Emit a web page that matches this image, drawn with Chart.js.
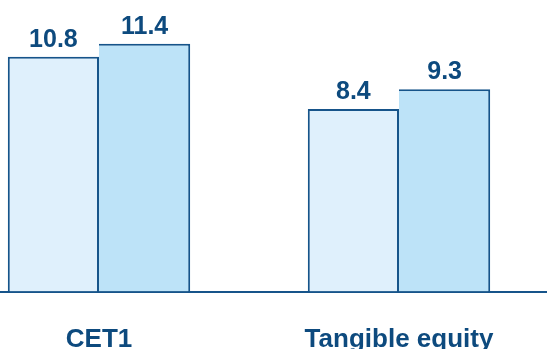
<!DOCTYPE html>
<html>
<head>
<meta charset="utf-8">
<script src="https://cdn.jsdelivr.net/npm/chart.js@4/dist/chart.umd.min.js"></script>
<style>
  html, body { margin: 0; padding: 0; background: #fff; overflow: hidden; }
  body { width: 547px; height: 349px; position: relative; }
  /* the plot runs a bit past the left edge of the page */
  #wrap { position: absolute; left: -51px; top: 0; width: 600px; height: 349px; }
</style>
</head>
<body>
<div id="wrap"><canvas id="myChart" width="600" height="349"></canvas></div>
<script>
"use strict";
const categories = ["CET1", "Tangible equity"];
const seriesA = [10.8, 8.4];
const seriesB = [11.4, 9.3];

const dark = "#16548a";
const textColor = "#0d4a7e";

// value on top of every bar
const valueLabels = {
    id: "valueLabels",
    afterDatasetsDraw(chart) {
        const ctx = chart.ctx;
        ctx.save();
        ctx.fillStyle = textColor;
        ctx.font = "bold 25px 'Liberation Sans', Arial, sans-serif";
        ctx.textAlign = "center";
        ctx.textBaseline = "alphabetic";
        chart.data.datasets.forEach((ds, i) => {
            chart.getDatasetMeta(i).data.forEach((bar, j) => {
                ctx.fillText(ds.data[j].toFixed(1), bar.x, bar.y - 10);
            });
        });
        ctx.restore();
    }
};

let canvas = document.getElementById("myChart");
const myChart = new Chart(canvas, {
    type: "bar",
    data: {
        labels: categories,
        datasets: [{
            data: seriesA,
            backgroundColor: "#dff0fc",
            borderColor: dark,
            borderWidth: 2,
            borderSkipped: "bottom"
        }, {
            data: seriesB,
            backgroundColor: "#bde3f8",
            borderColor: dark,
            borderWidth: { top: 2, right: 2, bottom: 0, left: 0 },
            borderSkipped: false
        }]
    },
    options: {
        responsive: false,
        animation: false,
        devicePixelRatio: 1,
        layout: { padding: { top: 10, left: 0, right: 0, bottom: 0 } },
        plugins: { legend: { display: false }, tooltip: { enabled: false } },
        datasets: { bar: { categoryPercentage: 0.608, barPercentage: 1 } },
        scales: {
            x: {
                grid: { display: false },
                border: { display: true, color: dark, width: 2 },
                ticks: {
                    color: textColor,
                    padding: 25,
                    font: { family: "'Liberation Sans', Arial, sans-serif", size: 26, weight: "bold" }
                },
                afterFit(scale) { scale.height = 57.5; }
            },
            y: { display: false, min: 0, max: 12.95 }
        }
    },
    plugins: [valueLabels]
});
</script>
</body>
</html>
